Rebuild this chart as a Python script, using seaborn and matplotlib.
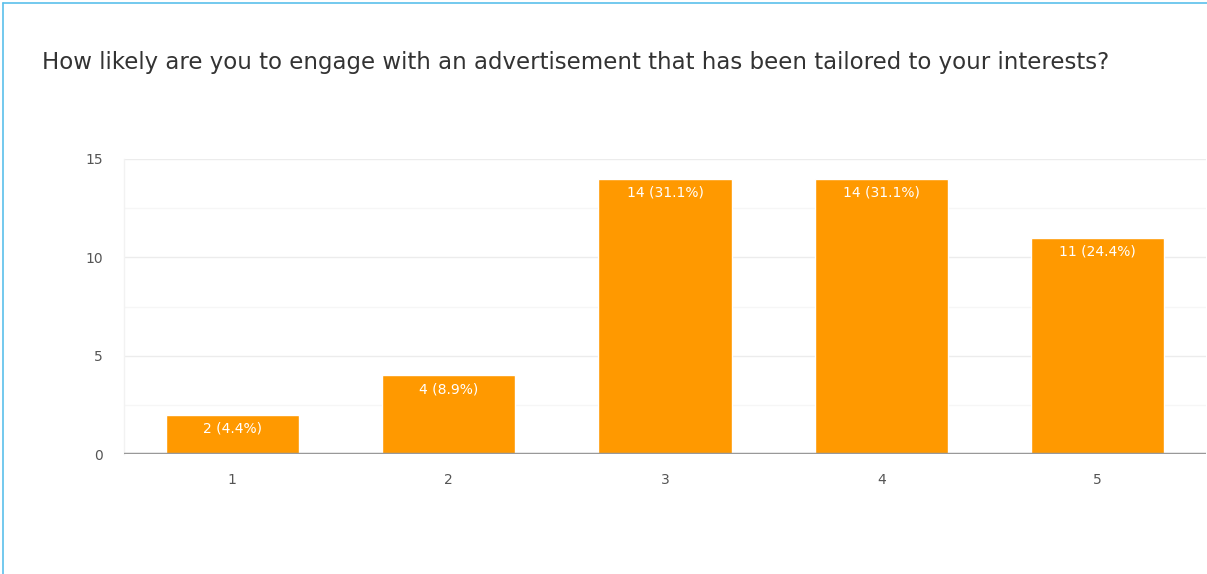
import matplotlib
matplotlib.use("Agg")
import matplotlib.pyplot as plt
from matplotlib.lines import Line2D
import seaborn as sns
import pandas as pd

title = "How likely are you to engage with an advertisement that has been tailored to your interests?"
ratings = ["1", "2", "3", "4", "5"]
counts = [2, 4, 14, 14, 11]
y_ticks = [0, 5, 10, 15]

sns.set_theme(style="white")
plt.rcParams["font.family"] = ["DejaVu Sans"]

df = pd.DataFrame({"rating": ratings, "count": counts})
total = sum(counts)

fig = plt.figure(figsize=(12.07, 5.74), dpi=100)
ax = fig.add_axes([124 / 1207, 1 - 454 / 574, 1082 / 1207, (454 - 159) / 574])

# light gridlines: major every 5, minor halfway between
for v in [2.5, 7.5, 12.5]:
    ax.axhline(v, color="#f6f6f6", lw=1, zorder=0)
for v in y_ticks[1:]:
    ax.axhline(v, color="#ececec", lw=1, zorder=0)

sns.barplot(data=df, x="rating", y="count", color="#ff9900", saturation=1,
            width=0.616, ax=ax, zorder=2)

ax.set_xlim(-0.5, 4.5)
ax.set_ylim(0, 15)
ax.set_yticks(y_ticks)
ax.set_xlabel("")
ax.set_ylabel("")
for s in ["top", "right", "bottom"]:
    ax.spines[s].set_visible(False)
ax.spines["left"].set_color("#f2f2f2")
ax.spines["left"].set_linewidth(1)
ax.axhline(0, color="#999999", lw=2.5, zorder=3)
ax.tick_params(axis="both", length=0, labelsize=10, colors="#555555")
ax.tick_params(axis="y", pad=15)
ax.tick_params(axis="x", pad=14)

for i, v in enumerate(counts):
    ax.annotate(f"{v} ({v / total * 100:.1f}%)", xy=(i, v), xytext=(0, -5),
                textcoords="offset points", ha="center", va="top",
                color="white", fontsize=10, zorder=4)

fig.text(42 / 1207, 1 - 62 / 574, title, fontsize=16.5, color="#333333",
         ha="left", va="center")

# frame lines along the left and top edges
fig.add_artist(Line2D([3 / 1207, 3 / 1207], [0, 1 - 3 / 574], color="#5bc0eb", lw=1.2,
                      transform=fig.transFigure))
fig.add_artist(Line2D([3 / 1207, 1], [1 - 3 / 574, 1 - 3 / 574], color="#5bc0eb", lw=1.2,
                      transform=fig.transFigure))

fig.savefig("out.png", dpi=100)
